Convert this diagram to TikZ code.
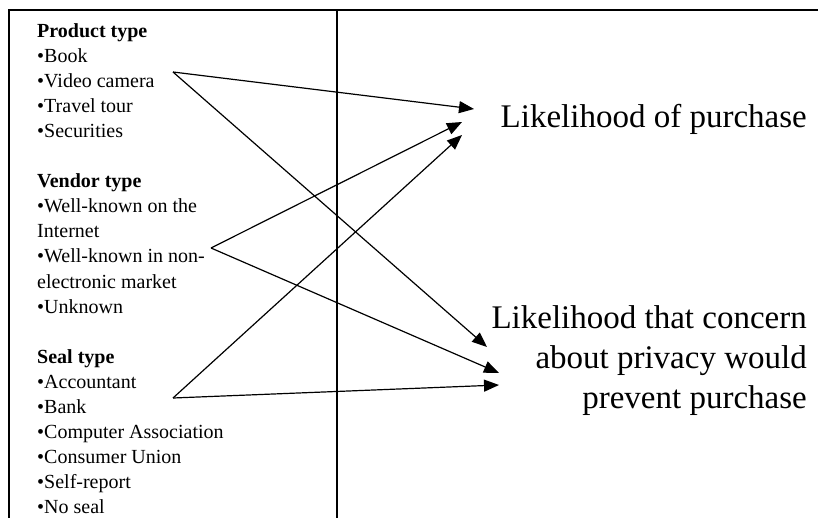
\documentclass[tikz,border=0pt]{standalone}
\usepackage{fontspec}
\setmainfont{Liberation Serif}
\usetikzlibrary{arrows.meta}
\begin{document}
\begin{tikzpicture}[x=1pt,y=-1pt,
  frameline/.style={line width=1.3pt},
  item/.style={anchor=base west,inner sep=0pt,font=\fontsize{20}{25}\selectfont},
  outcome/.style={inner sep=0pt,font=\fontsize{33}{40}\selectfont},
  link/.style={line width=1.2pt,-{Triangle[length=15pt,width=12pt]}}]
\useasboundingbox (0,0) rectangle (818,518);
% frame
\draw[frameline] (9,518) -- (9,10) -- (818,10);
\draw[frameline] (337,10) -- (337,518);
% left texts
\foreach \t [count=\i from 0] in {\textbf{Product type},•Book,•Video camera,•Travel tour,•Securities}
  \node[item] (p\i) at (37,38+25*\i) {\t};
\foreach \t [count=\i from 0] in {\textbf{Vendor type},•Well-known on the,Internet,•Well-known in non-,electronic market,•Unknown}
  \node[item] (v\i) at (37,188+25*\i) {\t};
\foreach \t [count=\i from 0] in {\textbf{Seal type},•Accountant,•Bank,•Computer Association,•Consumer Union,•Self-report,•No seal}
  \node[item] (s\i) at (37,363+25*\i) {\t};
% outcomes
\node[outcome,anchor=base east] (purchase) at (807,128) {Likelihood of purchase};
\node[outcome,anchor=base east,align=right] (privacy) at (807,408) {Likelihood that concern\\about privacy would\\prevent purchase};
% sources and targets
\coordinate (srcP) at (173,72);
\coordinate (srcV) at (211,248);
\coordinate (srcS) at (173,398);
\coordinate (tPp) at (474,109);
\coordinate (tVp) at (462,122);
\coordinate (tSp) at (462,135);
\coordinate (tPq) at (487,347);
\coordinate (tVq) at (499,373);
\coordinate (tSq) at (499,385);
% arrows
\draw[link] (srcP) -- (tPp);
\draw[link] (srcP) -- (tPq);
\draw[link] (srcV) -- (tVp);
\draw[link] (srcV) -- (tVq);
\draw[link] (srcS) -- (tSp);
\draw[link] (srcS) -- (tSq);
\end{tikzpicture}
\end{document}
